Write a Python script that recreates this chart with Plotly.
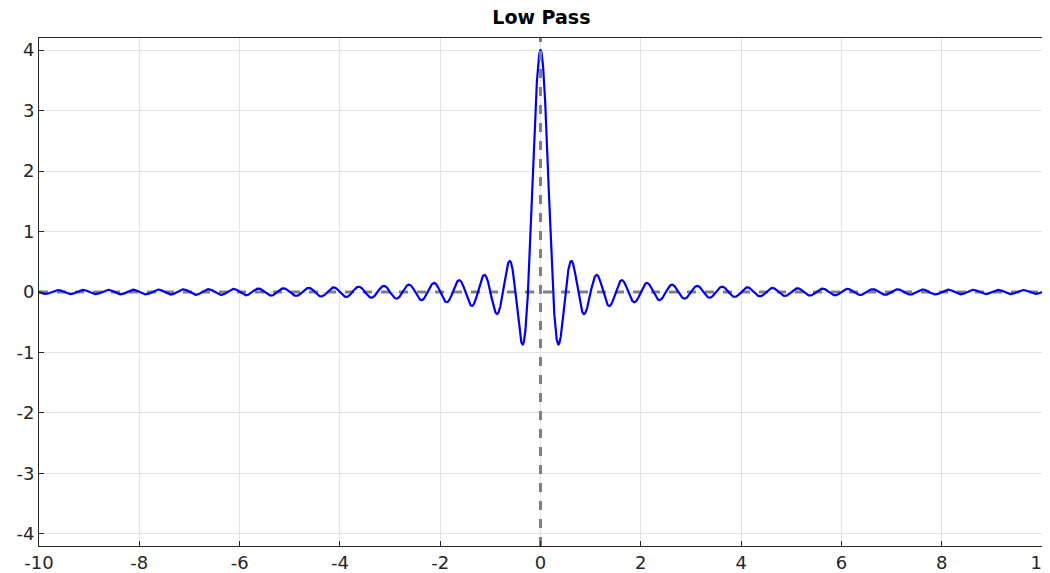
import numpy as np
import plotly.graph_objects as go

# Low-pass impulse response: h(t) = sin(2*pi*fc*t)/(pi*t), fc = 2
cutoff_freq = 2.0
t = np.linspace(-10, 10, 8001)
h = np.where(t == 0, 2 * cutoff_freq, np.sin(2 * np.pi * cutoff_freq * t) / (np.pi * np.where(t == 0, 1, t)))

x_ticks = [-10, -8, -6, -4, -2, 0, 2, 4, 6, 8, 10]
x_labels = ["-10", "-8", "-6", "-4", "-2", "0", "2", "4", "6", "8", "10"]
y_ticks = [-4, -3, -2, -1, 0, 1, 2, 3, 4]
y_labels = ["-4", "-3", "-2", "-1", "0", "1", "2", "3", "4"]

fig = go.Figure()
fig.add_trace(go.Scatter(x=[-10, 10], y=[0, 0], mode="lines",
                         line=dict(color="gray", width=3, dash="dash"), hoverinfo="skip"))
fig.add_trace(go.Scatter(x=t, y=h, mode="lines", line=dict(color="#0000ee", width=2.2)))
fig.add_trace(go.Scatter(x=[0, 0], y=[-4.2, 4.2], mode="lines",
                         line=dict(color="gray", width=3, dash="dash"), hoverinfo="skip"))

axis_common = dict(showgrid=True, gridcolor="#e3e3e3", gridwidth=1, zeroline=False,
                   showline=True, linecolor="#262626", linewidth=1, mirror=True,
                   ticks="inside", ticklen=5, tickcolor="#262626", automargin=False,
                   tickfont=dict(family="DejaVu Sans", size=18, color="#262626"))
fig.update_layout(
    width=1050, height=573, showlegend=False,
    plot_bgcolor="white", paper_bgcolor="white",
    margin=dict(l=31, r=16, t=30, b=35),
    title=dict(text="<b>Low Pass</b>", x=0.508, xanchor="center", y=0.995, yanchor="top",
               font=dict(family="DejaVu Sans", size=19, color="black")),
    xaxis=dict(range=[-10, 10], tickvals=x_ticks, ticktext=x_labels, **axis_common),
    yaxis=dict(range=[-4.2, 4.2], tickvals=y_ticks, ticktext=y_labels, **axis_common),
)
fig.write_html("out.html")
